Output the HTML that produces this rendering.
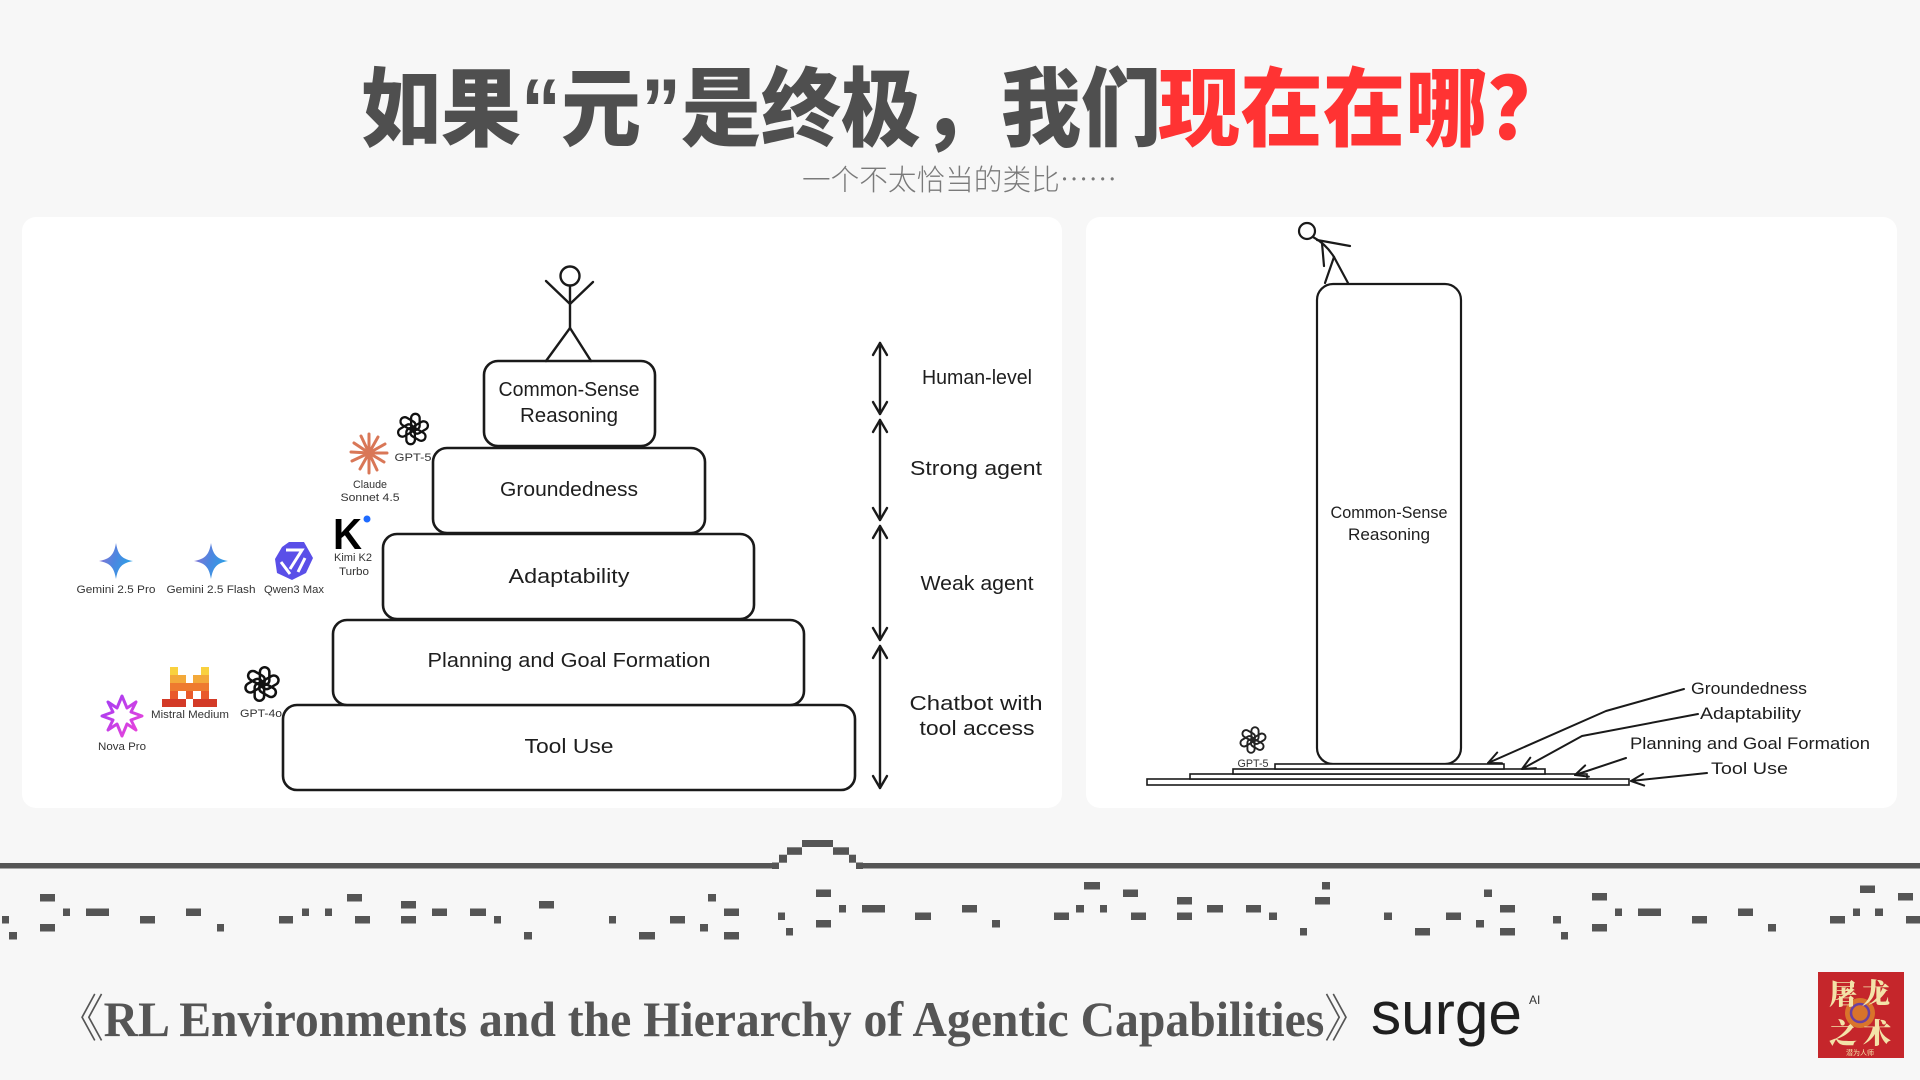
<!DOCTYPE html>
<html><head><meta charset="utf-8"><style>
html,body{margin:0;padding:0;background:#f7f7f7;}
svg{display:block;}
.hw{font-family:"Liberation Sans","DejaVu Sans",sans-serif;fill:#1e1e1e;}
.sm{font-family:"Liberation Sans","DejaVu Sans",sans-serif;fill:#333;font-size:11px;}
</style></head><body>
<svg width="1920" height="1080" viewBox="0 0 1920 1080" xmlns="http://www.w3.org/2000/svg">
<defs>
<linearGradient id="gem" x1="0" y1="0" x2="1" y2="0.4"><stop offset="0" stop-color="#9a6fd0"/><stop offset="0.55" stop-color="#4d86e0"/><stop offset="1" stop-color="#2ea0e6"/></linearGradient>
<linearGradient id="nova" x1="0" y1="0" x2="1" y2="1"><stop offset="0" stop-color="#a03cf5"/><stop offset="1" stop-color="#f045d8"/></linearGradient>
</defs>
<rect width="1920" height="1080" fill="#f7f7f7"/>

<!-- Title -->
<text x="361" y="139" textLength="800" lengthAdjust="spacingAndGlyphs" font-size="86" font-weight="900" style="font-family:'Liberation Sans','Noto Sans CJK SC',sans-serif" fill="#4f4f4f">如果“元”是终极，我们</text>
<text x="1158" y="139" textLength="412" lengthAdjust="spacingAndGlyphs" font-size="86" font-weight="900" style="font-family:'Liberation Sans','Noto Sans CJK SC',sans-serif" fill="#ff3333">现在在哪？</text>
<text x="802" y="190" textLength="315" lengthAdjust="spacingAndGlyphs" font-size="29" font-weight="300" style="font-family:'Noto Sans CJK SC',sans-serif" fill="#7a7a7a">一个不太恰当的类比……</text>

<!-- Panels -->
<rect x="22" y="217" width="1040" height="591" rx="14" fill="#ffffff"/>
<rect x="1086" y="217" width="811" height="591" rx="14" fill="#ffffff"/>

<!-- Left pyramid -->
<g fill="#fff" stroke="#1a1a1a" stroke-width="2.6">
<rect x="283" y="705" width="572" height="85" rx="14"/>
<rect x="333" y="620" width="471" height="85" rx="14"/>
<rect x="383" y="534" width="371" height="85" rx="14"/>
<rect x="433" y="448" width="272" height="85" rx="14"/>
<rect x="484" y="361" width="171" height="85" rx="14"/>
</g>
<!-- stick figure -->
<g fill="none" stroke="#1a1a1a" stroke-width="2.4" stroke-linecap="round">
<circle cx="570" cy="276" r="9.5"/>
<line x1="570" y1="286" x2="570" y2="328"/>
<polyline points="546,281 570,304 593,282"/>
<polyline points="546,361 570,328 591,361"/>
</g>
<g class="hw" font-size="20" text-anchor="middle">
<text x="569" y="396" textLength="141" lengthAdjust="spacingAndGlyphs">Common-Sense</text>
<text x="569" y="422" textLength="98" lengthAdjust="spacingAndGlyphs">Reasoning</text>
<text x="569" y="496" textLength="138" lengthAdjust="spacingAndGlyphs">Groundedness</text>
<text x="569" y="583" textLength="121" lengthAdjust="spacingAndGlyphs">Adaptability</text>
<text x="569" y="667" textLength="283" lengthAdjust="spacingAndGlyphs">Planning and Goal Formation</text>
<text x="569" y="753" textLength="89" lengthAdjust="spacingAndGlyphs">Tool Use</text>
<text x="977" y="384" textLength="110" lengthAdjust="spacingAndGlyphs">Human-level</text>
<text x="976" y="475" textLength="132" lengthAdjust="spacingAndGlyphs">Strong agent</text>
<text x="977" y="590" textLength="113" lengthAdjust="spacingAndGlyphs">Weak agent</text>
<text x="976" y="710" textLength="133" lengthAdjust="spacingAndGlyphs">Chatbot with</text>
<text x="977" y="735" textLength="115" lengthAdjust="spacingAndGlyphs">tool access</text>
</g>
<!-- vertical arrows -->
<g fill="none" stroke="#1a1a1a" stroke-width="2.4" stroke-linecap="round" stroke-linejoin="round">
<line x1="880" y1="343" x2="880" y2="414"/>
<polyline points="873,355 880,343 887,355"/><polyline points="873,402 880,414 887,402"/>
<line x1="880" y1="420" x2="880" y2="520"/>
<polyline points="873,432 880,420 887,432"/><polyline points="873,508 880,520 887,508"/>
<line x1="880" y1="526" x2="880" y2="640"/>
<polyline points="873,538 880,526 887,538"/><polyline points="873,628 880,640 887,628"/>
<line x1="880" y1="646" x2="880" y2="788"/>
<polyline points="873,658 880,646 887,658"/><polyline points="873,776 880,788 887,776"/>
</g>

<!-- Logos -->
<!-- GPT-5 -->
<g transform="translate(413,429) scale(0.95)" fill="none" stroke="#111" stroke-width="2.4">
<rect x="-2" y="-16" width="9" height="17" rx="4.5"/>
<rect x="-2" y="-16" width="9" height="17" rx="4.5" transform="rotate(60)"/>
<rect x="-2" y="-16" width="9" height="17" rx="4.5" transform="rotate(120)"/>
<rect x="-2" y="-16" width="9" height="17" rx="4.5" transform="rotate(180)"/>
<rect x="-2" y="-16" width="9" height="17" rx="4.5" transform="rotate(240)"/>
<rect x="-2" y="-16" width="9" height="17" rx="4.5" transform="rotate(300)"/>
</g>
<text class="sm" x="413" y="461" text-anchor="middle" textLength="37" lengthAdjust="spacingAndGlyphs">GPT-5</text>
<!-- Claude -->
<g transform="translate(369,453)" stroke="#d97757" stroke-width="3" stroke-linecap="round">
<line x1="0" y1="0" x2="0" y2="-19"/><line x1="0" y1="0" x2="9" y2="-16"/><line x1="0" y1="0" x2="16" y2="-9"/>
<line x1="0" y1="0" x2="18" y2="0"/><line x1="0" y1="0" x2="15" y2="9"/><line x1="0" y1="0" x2="8" y2="17"/>
<line x1="0" y1="0" x2="0" y2="20"/><line x1="0" y1="0" x2="-9" y2="16"/><line x1="0" y1="0" x2="-17" y2="8"/>
<line x1="0" y1="0" x2="-18" y2="-1"/><line x1="0" y1="0" x2="-15" y2="-10"/><line x1="0" y1="0" x2="-8" y2="-17"/>
</g>
<text class="sm" x="370" y="488" text-anchor="middle" textLength="34" lengthAdjust="spacingAndGlyphs">Claude</text>
<text class="sm" x="370" y="501" text-anchor="middle" textLength="59" lengthAdjust="spacingAndGlyphs">Sonnet 4.5</text>
<!-- Kimi -->
<text x="333" y="549" font-size="44" font-weight="900" style="font-family:'Liberation Sans',sans-serif" fill="#000" textLength="29" lengthAdjust="spacingAndGlyphs">K</text>
<circle cx="367" cy="519" r="3.5" fill="#1f6bff"/>
<text class="sm" x="353" y="561" text-anchor="middle" textLength="38" lengthAdjust="spacingAndGlyphs">Kimi K2</text>
<text class="sm" x="354" y="575" text-anchor="middle" textLength="30" lengthAdjust="spacingAndGlyphs">Turbo</text>
<!-- Gemini -->
<path transform="translate(116,561)" d="M0,-18 C2,-6 6,-2 17,0 C6,2 2,6 0,18 C-2,6 -6,2 -17,0 C-6,-2 -2,-6 0,-18Z" fill="url(#gem)"/>
<path transform="translate(211,561)" d="M0,-18 C2,-6 6,-2 17,0 C6,2 2,6 0,18 C-2,6 -6,2 -17,0 C-6,-2 -2,-6 0,-18Z" fill="url(#gem)"/>
<text class="sm" x="116" y="593" text-anchor="middle" textLength="79" lengthAdjust="spacingAndGlyphs">Gemini 2.5 Pro</text>
<text class="sm" x="211" y="593" text-anchor="middle" textLength="89" lengthAdjust="spacingAndGlyphs">Gemini 2.5 Flash</text>
<!-- Qwen -->
<g transform="translate(294,561)">
<polygon points="-5,-19 10,-19 19,-3 12,12 -2,19 -17,12 -19,-2 -12,-14" fill="#5a4fe8"/>
<path d="M-8,-11 L8,-11 L-4,8 M11,-3 L4,11 M-13,1 L-4,13" stroke="#fff" stroke-width="3" fill="none"/>
</g>
<text class="sm" x="294" y="593" text-anchor="middle" textLength="60" lengthAdjust="spacingAndGlyphs">Qwen3 Max</text>
<!-- Mistral -->
<g>
<rect x="170" y="667" width="8" height="8" fill="#f9d13e"/><rect x="201" y="667" width="8" height="8" fill="#f9d13e"/>
<rect x="170" y="675" width="16" height="8" fill="#f3a93a"/><rect x="193" y="675" width="16" height="8" fill="#f3a93a"/>
<rect x="170" y="683" width="39" height="8" fill="#ee7a2f"/>
<rect x="170" y="691" width="8" height="8" fill="#e9592a"/><rect x="186" y="691" width="7" height="8" fill="#e9592a"/><rect x="201" y="691" width="8" height="8" fill="#e9592a"/>
<rect x="162" y="699" width="24" height="8" fill="#d33a27"/><rect x="193" y="699" width="24" height="8" fill="#d33a27"/>
</g>
<text class="sm" x="190" y="718" text-anchor="middle" textLength="78" lengthAdjust="spacingAndGlyphs">Mistral Medium</text>
<!-- GPT-4o -->
<g transform="translate(262,684) scale(1.05)" fill="none" stroke="#111" stroke-width="2.4">
<rect x="-2" y="-16" width="9" height="17" rx="4.5"/>
<rect x="-2" y="-16" width="9" height="17" rx="4.5" transform="rotate(60)"/>
<rect x="-2" y="-16" width="9" height="17" rx="4.5" transform="rotate(120)"/>
<rect x="-2" y="-16" width="9" height="17" rx="4.5" transform="rotate(180)"/>
<rect x="-2" y="-16" width="9" height="17" rx="4.5" transform="rotate(240)"/>
<rect x="-2" y="-16" width="9" height="17" rx="4.5" transform="rotate(300)"/>
</g>
<text class="sm" x="261" y="717" text-anchor="middle" textLength="42" lengthAdjust="spacingAndGlyphs">GPT-4o</text>
<!-- Nova -->
<polygon transform="translate(122,716)" points="0,-20 5,-8 14,-14 9,-4 20,0 9,4 14,14 5,8 0,20 -5,8 -14,14 -9,4 -20,0 -9,-4 -14,-14 -5,-8" fill="none" stroke="url(#nova)" stroke-width="3" stroke-linejoin="round"/>
<text class="sm" x="122" y="750" text-anchor="middle" textLength="48" lengthAdjust="spacingAndGlyphs">Nova Pro</text>

<!-- Right panel -->
<g fill="none" stroke="#1a1a1a" stroke-width="2.2" stroke-linecap="round">
<circle cx="1307" cy="231" r="8"/>
<path d="M1313,237 Q1326,244 1334,257"/>
<line x1="1317" y1="240" x2="1350" y2="246"/>
<line x1="1322" y1="243" x2="1324" y2="266"/>
<line x1="1334" y1="257" x2="1325" y2="283"/>
<line x1="1334" y1="257" x2="1348" y2="283"/>
</g>
<rect x="1317" y="284" width="144" height="480" rx="16" fill="#fff" stroke="#1a1a1a" stroke-width="2.2"/>
<g fill="#fff" stroke="#1a1a1a" stroke-width="1.6">
<rect x="1147" y="779" width="482" height="6"/>
<rect x="1190" y="774" width="397" height="5"/>
<rect x="1233" y="769" width="312" height="5"/>
<rect x="1275" y="764" width="229" height="5"/>
</g>
<g class="hw" font-size="17">
<text x="1389" y="518" text-anchor="middle" textLength="117" lengthAdjust="spacingAndGlyphs">Common-Sense</text>
<text x="1389" y="540" text-anchor="middle" textLength="82" lengthAdjust="spacingAndGlyphs">Reasoning</text>
<text x="1691" y="694" textLength="116" lengthAdjust="spacingAndGlyphs">Groundedness</text>
<text x="1700" y="719" textLength="101" lengthAdjust="spacingAndGlyphs">Adaptability</text>
<text x="1630" y="749" textLength="240" lengthAdjust="spacingAndGlyphs">Planning and Goal Formation</text>
<text x="1711" y="774" textLength="77" lengthAdjust="spacingAndGlyphs">Tool Use</text>
</g>
<g fill="none" stroke="#1a1a1a" stroke-width="2" stroke-linecap="round" stroke-linejoin="round">
<polyline points="1684,689 1606,711 1488,763"/><polyline points="1502,763.3 1488,763 1497.2,752.5"/>
<polyline points="1698,714 1582,736 1522,769"/><polyline points="1536,768.1 1522,769 1530.3,757.7"/>
<polyline points="1626,758 1575,775"/><polyline points="1588.9,776.6 1575,775 1585.2,765.4"/>
<polyline points="1707,773 1631,781"/><polyline points="1644.2,785.6 1631,781 1643,773.8"/>
</g>
<g transform="translate(1253,740) scale(0.8)" fill="none" stroke="#222" stroke-width="2.4">
<rect x="-2" y="-16" width="9" height="17" rx="4.5"/>
<rect x="-2" y="-16" width="9" height="17" rx="4.5" transform="rotate(60)"/>
<rect x="-2" y="-16" width="9" height="17" rx="4.5" transform="rotate(120)"/>
<rect x="-2" y="-16" width="9" height="17" rx="4.5" transform="rotate(180)"/>
<rect x="-2" y="-16" width="9" height="17" rx="4.5" transform="rotate(240)"/>
<rect x="-2" y="-16" width="9" height="17" rx="4.5" transform="rotate(300)"/>
</g>
<text class="sm" x="1253" y="767" text-anchor="middle" font-size="10" textLength="31" lengthAdjust="spacingAndGlyphs">GPT-5</text>

<!-- Bottom line with bump -->
<g fill="#555">
<rect x="0" y="863" width="772" height="5.5"/>
<rect x="772" y="862.5" width="7" height="6.5"/>
<rect x="779" y="854.7" width="8" height="8"/>
<rect x="787" y="847.3" width="15" height="7.5"/>
<rect x="802" y="840" width="31" height="7"/>
<rect x="833" y="847.3" width="16" height="7.5"/>
<rect x="849" y="854.7" width="7" height="8"/>
<rect x="856" y="862.5" width="7" height="6.5"/>
<rect x="863" y="863" width="1057" height="5.5"/>
</g>
<!-- Pixel noise -->
<g fill="#555">
<rect x="2" y="916" width="7" height="7.5"/><rect x="9" y="932" width="8" height="7.5"/>
<rect x="40" y="894" width="15" height="7.5"/><rect x="40" y="924" width="15" height="7.5"/>
<rect x="63" y="908.5" width="7" height="7.5"/><rect x="86" y="908.5" width="23" height="7.5"/>
<rect x="140" y="916" width="15" height="7.5"/><rect x="186" y="908.5" width="15" height="7.5"/>
<rect x="217" y="924" width="7" height="7.5"/><rect x="279" y="916" width="14" height="7.5"/>
<rect x="302" y="908.5" width="7" height="7.5"/><rect x="325" y="908.5" width="7" height="7.5"/>
<rect x="347" y="894" width="15" height="7.5"/><rect x="355" y="916" width="15" height="7.5"/>
<rect x="401" y="901" width="15" height="7.5"/><rect x="401" y="916" width="15" height="7.5"/>
<rect x="432" y="908.5" width="15" height="7.5"/><rect x="470" y="908.5" width="16" height="7.5"/>
<rect x="494" y="916" width="7" height="7.5"/><rect x="524" y="932" width="8" height="7.5"/>
<rect x="539" y="901" width="15" height="7.5"/><rect x="609" y="916" width="7" height="7.5"/>
<rect x="639" y="932" width="16" height="7.5"/><rect x="670" y="916" width="15" height="7.5"/>
<rect x="700" y="924" width="8" height="7.5"/><rect x="708" y="894" width="8" height="7.5"/>
<rect x="724" y="908.5" width="15" height="7.5"/><rect x="724" y="932" width="15" height="7.5"/>
<rect x="778" y="912.5" width="7" height="7.5"/><rect x="786" y="928" width="7" height="7.5"/>
<rect x="816" y="889.5" width="15" height="7.5"/><rect x="816" y="920" width="15" height="7.5"/>
<rect x="839" y="905" width="7" height="7.5"/><rect x="862" y="905" width="23" height="7.5"/>
<rect x="915" y="912.5" width="16" height="7.5"/>
<rect x="962" y="905" width="15" height="7.5"/><rect x="992" y="920" width="8" height="7.5"/>
<rect x="1054" y="912.5" width="15" height="7.5"/><rect x="1076" y="905" width="8" height="7.5"/>
<rect x="1084" y="882" width="16" height="7.5"/><rect x="1100" y="905" width="7" height="7.5"/>
<rect x="1123" y="889.5" width="15" height="7.5"/><rect x="1131" y="912.5" width="15" height="7.5"/>
<rect x="1177" y="897" width="15" height="7.5"/><rect x="1177" y="912.5" width="15" height="7.5"/>
<rect x="1207" y="905" width="16" height="7.5"/><rect x="1246" y="905" width="15" height="7.5"/>
<rect x="1269" y="912.5" width="8" height="7.5"/><rect x="1300" y="928" width="7" height="7.5"/>
<rect x="1315" y="897" width="15" height="7.5"/><rect x="1322" y="882" width="8" height="7.5"/>
<rect x="1384" y="912.5" width="8" height="7.5"/><rect x="1415" y="928" width="15" height="7.5"/>
<rect x="1446" y="912.5" width="15" height="7.5"/><rect x="1476" y="920" width="8" height="7.5"/>
<rect x="1484" y="889.5" width="8" height="7.5"/><rect x="1500" y="905" width="15" height="7.5"/>
<rect x="1500" y="928" width="15" height="7.5"/><rect x="1553" y="916" width="8" height="7.5"/>
<rect x="1561" y="932" width="7" height="7.5"/><rect x="1592" y="893" width="15" height="7.5"/>
<rect x="1592" y="924" width="15" height="7.5"/><rect x="1615" y="908.5" width="7" height="7.5"/>
<rect x="1638" y="908.5" width="23" height="7.5"/><rect x="1692" y="916" width="15" height="7.5"/>
<rect x="1738" y="908.5" width="15" height="7.5"/><rect x="1768" y="924" width="8" height="7.5"/>
<rect x="1830" y="916" width="15" height="7.5"/><rect x="1853" y="908.5" width="7" height="7.5"/>
<rect x="1860" y="885.5" width="15" height="7.5"/><rect x="1875" y="908.5" width="8" height="7.5"/>
<rect x="1898" y="893" width="15" height="7.5"/><rect x="1906" y="916" width="14" height="7.5"/>
</g>

<!-- Footer -->
<text x="56" y="1036" font-size="50" font-weight="bold" style="font-family:'Liberation Serif','Noto Serif CJK SC',serif" fill="#555" textLength="1316" lengthAdjust="spacingAndGlyphs">《RL Environments and the Hierarchy of Agentic Capabilities》</text>
<text x="1371" y="1034" font-size="60" style="font-family:'Liberation Sans',sans-serif" fill="#1f1f1f" textLength="151" lengthAdjust="spacingAndGlyphs">surge</text>
<text x="1529" y="1004" font-size="12" style="font-family:'Liberation Sans',sans-serif" fill="#333">AI</text>

<!-- Seal -->
<rect x="1818" y="972" width="86" height="86" fill="#c5262b"/>
<circle cx="1860" cy="1013" r="15" fill="#d9742b"/>
<circle cx="1860" cy="1013" r="9" fill="none" stroke="#6b3fa0" stroke-width="2.5"/>
<g font-size="28" font-weight="900" style="font-family:'Noto Serif CJK SC','Noto Sans CJK SC',serif" fill="#f3e3a8">
<text x="1829" y="1004">屠</text><text x="1862" y="1003">龙</text>
<text x="1829" y="1043">之</text><text x="1863" y="1043">术</text>
</g>
<text x="1860" y="1055" font-size="7" text-anchor="middle" style="font-family:'Noto Sans CJK SC',sans-serif" fill="#f3e3a8">潜为人师</text>
</svg>
</body></html>
